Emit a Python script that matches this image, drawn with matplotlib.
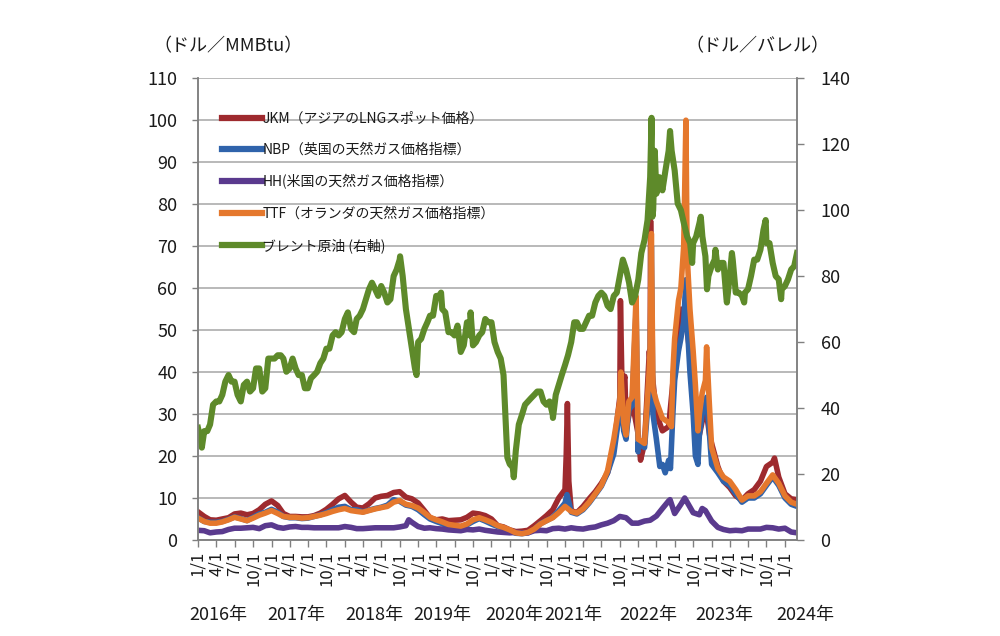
import numpy as np
import pandas as pd
import matplotlib
matplotlib.use('Agg')
import matplotlib.pyplot as plt
import matplotlib.transforms as mtransforms

plt.rcParams['font.family'] = ['Noto Sans CJK JP', 'DejaVu Sans']

# month-start dates, 2016-01 .. 2024-03, and mid-month dates 2016-01 .. 2024-02
months = pd.date_range('2016-01-01', '2024-03-01', freq='MS')
mids = pd.date_range('2016-01-01', '2024-02-01', freq='MS') + pd.Timedelta(days=15)

# Brent crude, $/bbl (right axis) - start of month
brent = [34, 33, 35, 42, 44, 50, 48, 42, 48, 46, 52, 46,
         55, 56, 55, 52, 52, 50, 46, 50, 53.6, 58, 62, 62,
         67, 64, 67, 70, 76, 76, 77, 72, 80, 85, 70, 58,
         60, 64, 68, 74, 70, 63, 62, 57, 66, 59, 62, 67,
         66, 57, 50, 23, 27, 38, 42, 44, 45, 41, 38, 47,
         53, 60, 66, 64, 68, 72, 75, 71, 74, 80, 82, 72,
         79, 91, 110, 105, 106, 118, 112, 100, 92, 90, 96, 86,
         83, 82, 84, 80, 75, 74, 76, 85, 88, 90, 84, 79,
         77, 82, 87]
# Brent - middle of month
brent_mid = [30, 33, 41, 42, 48, 48, 44, 47, 45, 52, 45, 55,
             55, 56, 51, 55, 50, 46, 49, 51, 55, 58, 63, 63,
             69, 63, 68, 73, 78, 74, 75, 73, 82, 80, 64, 52,
             61, 66, 68, 74, 69, 63, 65, 59, 62, 60, 63, 66,
             60, 55, 30, 22, 35, 41, 43, 45, 42, 42, 44, 50,
             56, 66, 64, 66, 68, 74, 74, 70, 75, 85, 78, 74,
             87, 97, 100, 110, 112, 118, 102, 96, 90, 92, 92, 80,
             85, 84, 73, 85, 75, 75, 80, 85, 94, 90, 80, 76,
             79, 83]
brent_x_dates = ['2016-01-20', '2018-10-03', '2018-12-24', '2019-04-25', '2019-09-19',
                 '2020-03-20', '2020-04-21', '2020-11-02', '2022-03-08', '2022-03-12',
                 '2022-03-24', '2022-06-08', '2022-09-26', '2022-11-08', '2022-12-09',
                 '2023-01-20', '2023-03-18', '2023-04-12', '2023-06-12', '2023-09-27',
                 '2023-12-13']
brent_x_vals = [28, 86, 50, 75, 69, 25, 19, 37, 128, 98,
                118, 124, 84, 98, 76, 88, 72, 87, 72, 97,
                73]

# JKM, $/MMBtu
jkm = [6.7, 5.6, 4.8, 4.7, 5.0, 5.3, 6.2, 6.4, 6.0, 6.3, 7.2, 8.5,
       9.3, 8.2, 6.3, 5.6, 5.6, 5.5, 5.5, 5.8, 6.4, 7.3, 8.5, 9.8,
       10.6, 9.0, 7.8, 7.6, 8.6, 10.0, 10.4, 10.6, 11.3, 11.5, 10.2, 9.8,
       8.8, 7.0, 5.3, 4.8, 5.0, 4.6, 4.7, 4.8, 5.4, 6.4, 6.2, 5.8,
       5.0, 3.4, 3.1, 2.4, 2.0, 2.1, 2.3, 3.4, 4.6, 5.8, 7.2, 10.0,
       12.0, 7.0, 6.5, 8.0, 9.8, 11.5, 13.5, 16.0, 22.0, 34.0, 28.0, 33.0,
       25.0, 23.0, 42.0, 30.0, 26.0, 27.0, 42.0, 55.0, 50.0, 38.0, 25.0, 32.0,
       23.0, 17.5, 14.0, 12.5, 10.5, 9.5, 11.0, 12.0, 14.0, 17.5, 18.5, 15.0,
       11.0, 9.8, 9.6]
jkm_x_dates = ['2021-01-07', '2021-01-13', '2021-01-20', '2021-10-04', '2021-10-12',
               '2021-10-26', '2021-11-08', '2022-01-12', '2022-02-25', '2022-03-03',
               '2022-03-10', '2022-12-22', '2023-11-10']
jkm_x_vals = [20, 32.5, 14, 57, 36, 39, 28, 19, 45, 76, 40, 25, 19.5]

# NBP, $/MMBtu
nbp = [5.3, 4.4, 4.2, 4.2, 4.4, 4.9, 5.5, 5.1, 4.6, 5.4, 6.2, 6.6,
       7.3, 6.6, 5.6, 5.3, 5.3, 5.1, 5.2, 5.6, 6.0, 6.5, 7.2, 7.8,
       8.0, 7.2, 7.2, 6.7, 7.1, 7.5, 7.8, 8.3, 9.6, 9.2, 8.3, 8.0,
       7.2, 6.0, 5.0, 4.4, 3.9, 3.2, 3.2, 3.0, 3.6, 4.4, 5.1, 4.5,
       3.8, 3.2, 2.8, 2.2, 1.6, 1.5, 1.7, 2.5, 3.9, 4.6, 5.4, 7.0,
       8.8, 6.6, 6.2, 7.2, 8.8, 10.8, 12.8, 16.0, 20.5, 31.0, 24.0, 32.0,
       23.0, 22.0, 40.0, 24.0, 18.0, 19.0, 38.0, 48.0, 52.0, 30.0, 25.0, 32.0,
       18.0, 16.0, 14.0, 13.0, 11.0, 9.0, 10.0, 10.0, 11.0, 13.0, 15.0, 13.0,
       10.0, 8.5, 8.0]
nbp_x_dates = ['2021-01-11', '2021-10-06', '2021-10-20', '2021-11-15', '2021-12-21',
               '2021-12-31', '2022-02-24', '2022-03-07', '2022-03-15', '2022-04-18',
               '2022-05-15', '2022-06-10', '2022-06-22', '2022-07-20', '2022-08-15',
               '2022-08-26', '2022-09-15', '2022-10-12', '2022-10-25', '2022-11-15',
               '2022-12-07', '2022-12-20']
nbp_x_vals = [10.8, 38, 26, 31, 55, 21, 36, 70, 30, 17.5,
              16, 17, 30, 45, 52, 62, 40, 20, 18, 30,
              34, 26]

# HH, $/MMBtu
hh = [2.3, 2.2, 1.7, 1.9, 2.0, 2.5, 2.8, 2.8, 2.9, 3.0, 2.7, 3.4,
      3.6, 3.0, 2.8, 3.1, 3.2, 3.0, 3.0, 2.9, 2.9, 2.9, 2.9, 2.9,
      3.2, 3.0, 2.7, 2.7, 2.8, 2.9, 2.9, 2.9, 2.9, 3.1, 3.4, 4.2,
      3.2, 2.8, 2.9, 2.7, 2.6, 2.4, 2.3, 2.2, 2.5, 2.4, 2.6, 2.3,
      2.1, 1.9, 1.8, 1.7, 1.8, 1.7, 1.7, 2.2, 2.3, 2.2, 2.7, 2.8,
      2.6, 2.9, 2.7, 2.6, 2.9, 3.1, 3.6, 4.0, 4.6, 5.6, 5.3, 4.0,
      4.0, 4.5, 4.7, 5.7, 7.5, 9.3, 6.3, 8.5, 9.0, 6.5, 6.0, 7.0,
      4.5, 3.0, 2.5, 2.2, 2.3, 2.2, 2.6, 2.6, 2.6, 3.0, 2.9, 2.6,
      2.8, 1.9, 1.7]
hh_x_dates = ['2018-11-15', '2022-06-08', '2022-08-20', '2022-11-15']
hh_x_vals = [4.8, 9.6, 10.0, 7.5]

# TTF, $/MMBtu
ttf = [5.2, 4.4, 4.0, 4.0, 4.3, 4.8, 5.4, 5.0, 4.6, 5.2, 5.9, 6.4,
       7.0, 6.3, 5.6, 5.4, 5.4, 5.2, 5.3, 5.6, 5.9, 6.3, 6.8, 7.2,
       7.5, 7.0, 6.8, 6.6, 7.0, 7.4, 7.7, 8.0, 9.0, 9.4, 8.5, 8.2,
       7.6, 6.5, 5.4, 4.8, 4.3, 3.7, 3.5, 3.3, 3.8, 4.8, 5.3, 4.8,
       4.2, 3.4, 3.0, 2.4, 1.7, 1.5, 1.8, 2.6, 3.8, 4.6, 5.3, 6.5,
       8.0, 6.8, 6.4, 7.4, 9.0, 11.0, 13.0, 16.5, 24.0, 33.0, 25.0, 34.0,
       24.0, 23.0, 46.0, 33.0, 29.0, 28.0, 48.0, 60.0, 68.0, 45.0, 30.0, 38.0,
       22.0, 17.0, 15.0, 14.0, 12.0, 9.5, 10.5, 10.5, 11.5, 13.5, 15.5, 13.5,
       10.5, 9.0, 8.5]
ttf_x_dates = ['2021-10-06', '2021-10-20', '2021-11-15', '2021-12-21', '2021-12-31',
               '2022-02-24', '2022-03-07', '2022-03-15', '2022-06-15', '2022-06-22',
               '2022-07-20', '2022-08-15', '2022-08-26', '2022-09-15', '2022-10-12',
               '2022-10-25', '2022-11-15', '2022-12-07', '2022-12-20']
ttf_x_vals = [40, 28, 33, 58, 24, 40, 73, 36, 27, 40,
              57, 70, 100, 55, 37, 26, 35, 46, 33]

labels = ['JKM（アジアのLNGスポット価格）', 'NBP（英国の天然ガス価格指標）',
          'HH(米国の天然ガス価格指標）', 'TTF（オランダの天然ガス価格指標）',
          'ブレント原油 (右軸)']
colors = ['#9E2A2E', '#2F63AB', '#5A3A8E', '#E5782D', '#5E8A2A']

years = ['2016年', '2017年', '2018年', '2019年', '2020年', '2021年', '2022年', '2023年', '2024年']
year_x = ['2016-04-10', '2017-05-04', '2018-05-27', '2019-05-02', '2020-04-24',
          '2021-02-13', '2022-02-18', '2023-03-07', '2024-04-10']


def make_series(base, extra_dates, extra_vals):
    s = pd.Series(base, index=months, dtype=float)
    e = pd.Series(extra_vals, index=pd.to_datetime(extra_dates), dtype=float)
    return pd.concat([s, e]).sort_index()


gas = [make_series(jkm, jkm_x_dates, jkm_x_vals),
       make_series(nbp, nbp_x_dates, nbp_x_vals),
       make_series(hh, hh_x_dates, hh_x_vals),
       make_series(ttf, ttf_x_dates, ttf_x_vals)]
oil = make_series(brent, list(mids.strftime('%Y-%m-%d')) + brent_x_dates, brent_mid + brent_x_vals)

txt = '#1a1a1a'
fig = plt.figure(figsize=(10, 6.36), dpi=100)
ax = fig.add_axes([0.198, 0.151, 0.599, 0.726])
ax2 = ax.twinx()

handles = []
for s, c, lab in zip(gas, colors[:4], labels[:4]):
    h, = ax.plot(s.index, s.values, color=c, lw=4.0, solid_joinstyle='round', label=lab)
    handles.append(h)
h, = ax2.plot(oil.index, oil.values, color=colors[4], lw=4.4, solid_joinstyle='round', label=labels[4])
handles.append(h)

ax.set_xlim(pd.Timestamp('2016-01-01'), pd.Timestamp('2024-03-01'))
ax.set_ylim(0, 110)
ax2.set_ylim(0, 140)
ax.set_yticks(np.arange(0, 111, 10))
ax2.set_yticks(np.arange(0, 141, 20))

ax.grid(axis='y', color='#A6A6A6', lw=1.1)
ax.set_axisbelow(True)

qticks = pd.date_range('2016-01-01', '2024-01-01', freq='QS')
ax.set_xticks(qticks)
ax.set_xticklabels([f'{d.month}/{d.day}' for d in qticks], rotation=90, fontsize=12, color=txt)
ax.tick_params(axis='x', length=5, width=1, color='#808080', pad=3)
ax.tick_params(axis='y', length=4, width=1, color='#808080', pad=11, labelsize=13, labelcolor=txt)
ax2.tick_params(axis='y', length=5, width=1, color='#808080', pad=12, labelsize=13, labelcolor=txt)

for a in (ax, ax2):
    a.spines['top'].set_visible(False)
    for sp in ('left', 'right', 'bottom'):
        a.spines[sp].set_color('#808080')
        a.spines[sp].set_linewidth(1.1)

trans = mtransforms.blended_transform_factory(ax.transData, ax.transAxes)
for y, d in zip(years, year_x):
    ax.text(pd.Timestamp(d), -0.162, y, transform=trans, ha='center', va='center',
            fontsize=13, color=txt)

fig.text(0.228, 0.928, '（ドル／MMBtu）', ha='center', va='center', fontsize=13, color=txt)
fig.text(0.757, 0.928, '（ドル／バレル）', ha='center', va='center', fontsize=13, color=txt)

leg = ax2.legend(handles=handles, loc='upper left', bbox_to_anchor=(0.03, 0.94),
                 frameon=False, fontsize=10, handlelength=2.9, handletextpad=0.05,
                 labelspacing=1.25, borderaxespad=0)
for t in leg.get_texts():
    t.set_color(txt)
for l in leg.get_lines():
    l.set_linewidth(4.5)

fig.savefig('out.png', dpi=100)
